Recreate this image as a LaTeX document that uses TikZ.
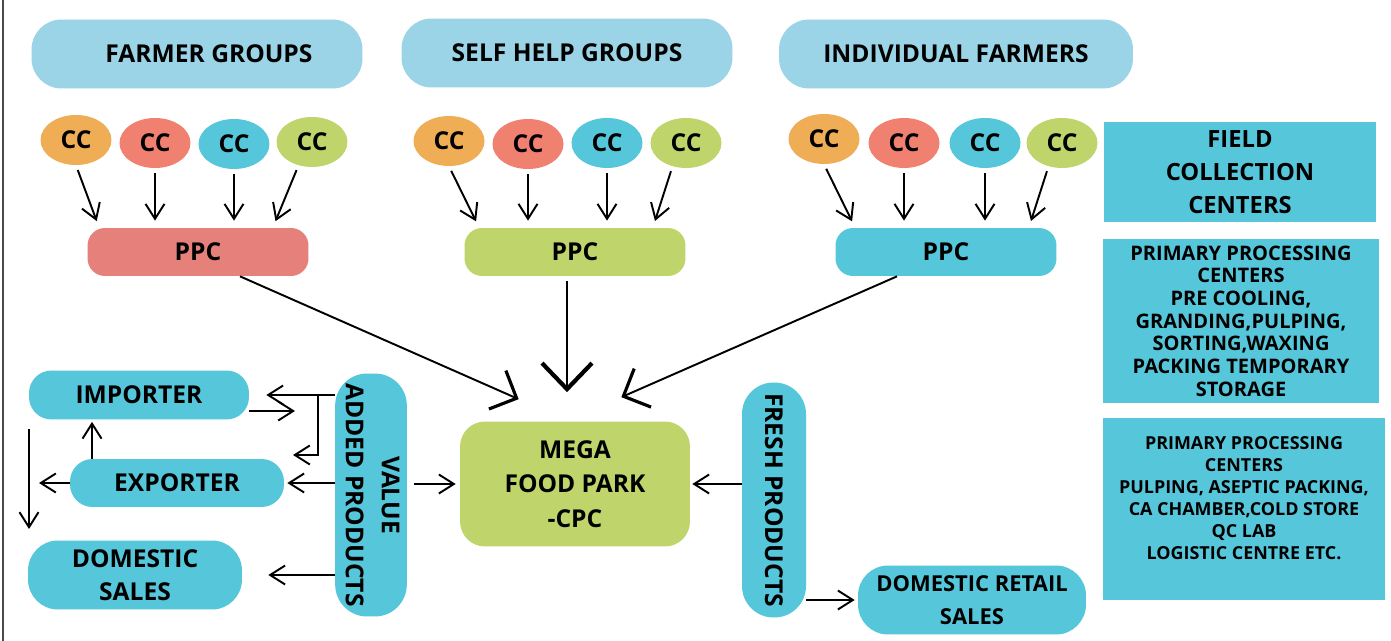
\documentclass[tikz,border=0pt]{standalone}
\usepackage{fontspec}
\setmainfont{Open Sans}
\usepackage{graphicx}
\usepackage{xcolor}
\usetikzlibrary{positioning,arrows.meta,shapes.geometric}
\definecolor{skyTop}{HTML}{9BD4E7}
\definecolor{cyanBox}{HTML}{56C6DA}
\definecolor{ccOrange}{HTML}{EFAD55}
\definecolor{ccRed}{HTML}{F08070}
\definecolor{ppcRed}{HTML}{E5817A}
\definecolor{parkGreen}{HTML}{BFD56C}
\definecolor{edgeGray}{HTML}{4A4A48}

\begin{document}
\begin{tikzpicture}[
    x=0.02cm, y=-0.02cm,
    every node/.style={font=\bfseries\fontsize{14}{19}\selectfont, text=black},
    groupBox/.style={fill=skyTop, rounded corners=0.6cm, minimum width=6.62cm, minimum height=1.38cm},
    ccNode/.style={ellipse, minimum width=1.42cm, minimum height=1.0cm, inner sep=0pt},
    ppcBox/.style={rounded corners=0.35cm, minimum width=4.42cm, minimum height=0.96cm},
    roundBox/.style={fill=cyanBox, rounded corners=0.45cm, align=center},
    infoBox/.style={fill=cyanBox, align=center},
    flowArr/.style={line width=1.1pt, -{Straight Barb[length=0.3cm, width=0.38cm]}},
    ccArr/.style={flowArr, shorten <=0.1cm, shorten >=0.14cm},
    bigArr/.style={line width=1.1pt, -{Straight Barb[length=0.42cm, width=0.84cm, line width=1.8pt]}}
]
    \path[use as bounding box, fill=white] (0,0) rectangle (1391,641);
    \draw[line width=1.6pt, draw=edgeGray] (3,0) -- (3,641);

    % Gruppi di produttori
    \node[groupBox] (fg) at (197,54) {\hspace*{0.48cm}FARMER GROUPS};
    \node[groupBox] (shg) at (567,53) {SELF HELP GROUPS};
    \node[groupBox, minimum width=7.08cm] (inf) at (956,54) {INDIVIDUAL FARMERS};

    % Centri di raccolta
    \node[ccNode, fill=ccOrange] (c11) at (76,140) {CC};
    \node[ccNode, fill=ccRed] (c12) at (155,143) {CC};
    \node[ccNode, fill=cyanBox] (c13) at (234,144) {CC};
    \node[ccNode, fill=parkGreen] (c14) at (312,142) {CC};
    \node[ccNode, fill=ccOrange] (c21) at (449,141) {CC};
    \node[ccNode, fill=ccRed] (c22) at (528,144) {CC};
    \node[ccNode, fill=cyanBox] (c23) at (607,143) {CC};
    \node[ccNode, fill=parkGreen] (c24) at (686,143) {CC};
    \node[ccNode, fill=ccOrange] (c31) at (824,139) {CC};
    \node[ccNode, fill=ccRed] (c32) at (904,143) {CC};
    \node[ccNode, fill=cyanBox] (c33) at (985,143) {CC};
    \node[ccNode, fill=parkGreen] (c34) at (1062,143) {CC};

    % PPC
    \node[ppcBox, fill=ppcRed] (p1) at (198,252) {PPC};
    \node[ppcBox, fill=parkGreen] (p2) at (575,252) {PPC};
    \node[ppcBox, fill=cyanBox] (p3) at (946,252) {PPC};

    % Frecce CC -> PPC
    \draw[ccArr] (c11.south) -- ([xshift=0.24cm]p1.north west);
    \draw[ccArr] (c12.south) -- (c12.south |- p1.north);
    \draw[ccArr] (c13.south) -- (c13.south |- p1.north);
    \draw[ccArr] (c14.240) -- ([xshift=-0.72cm]p1.north east);
    \draw[ccArr] (c21.south) -- ([xshift=0.3cm]p2.north west);
    \draw[ccArr] (c22.south) -- (c22.south |- p2.north);
    \draw[ccArr] (c23.south) -- (c23.south |- p2.north);
    \draw[ccArr] (c24.240) -- ([xshift=-0.66cm]p2.north east);
    \draw[ccArr] (c31.south) -- ([xshift=0.4cm]p3.north west);
    \draw[ccArr] (c32.south) -- (c32.south |- p3.north);
    \draw[ccArr] (c33.south) -- (c33.south |- p3.north);
    \draw[ccArr] (c34.240) -- ([xshift=-0.56cm]p3.north east);

    % Mega Food Park
    \node[fill=parkGreen, rounded corners=0.5cm, minimum width=4.6cm, minimum height=2.5cm,
          align=center, font=\bfseries\fontsize{14}{19.6}\selectfont] (mega) at (575,484) {MEGA\\FOOD PARK\\-CPC};
    \draw[bigArr] ([xshift=0.84cm]p1.south) -- ([xshift=1.18cm, yshift=0.44cm]mega.north west);
    \draw[line width=1.1pt, -{Straight Barb[length=0.52cm, width=1.0cm, line width=2.4pt]}, shorten <=0.1cm]
        ([xshift=-0.16cm]p2.south) -- ([xshift=-0.16cm, yshift=0.58cm]mega.north);
    \draw[bigArr] ([xshift=-0.98cm]p3.south) -- ([xshift=-1.38cm, yshift=0.48cm]mega.north east);

    % Canali di vendita
    \node[roundBox, minimum width=4.4cm, minimum height=0.98cm] (imp) at (139,395) {IMPORTER};
    \node[roundBox, minimum width=4.28cm, minimum height=0.96cm] (exp) at (177,483) {EXPORTER};
    \node[roundBox, rounded corners=0.6cm, minimum width=4.28cm, minimum height=1.38cm,
          font=\bfseries\fontsize{14}{18.7}\selectfont] (dom) at (135,575) {DOMESTIC\\SALES};
    \node[roundBox, rounded corners=0.6cm, minimum width=4.56cm, minimum height=1.38cm,
          font=\bfseries\fontsize{12.5}{18.7}\selectfont] (drs) at (972,600) {DOMESTIC RETAIL\\SALES};

    % Prodotti (verticali)
    \node[roundBox, rounded corners=0.64cm, minimum width=1.3cm, minimum height=4.86cm, inner sep=0pt,
          font=\bfseries\fontsize{14}{20.4}\selectfont] (vap) at (371,495)
          {\rotatebox{-90}{\begin{tabular}{@{}c@{}}VALUE\\ADDED PRODUCTS\end{tabular}}};
    \node[roundBox, rounded corners=0.63cm, minimum width=1.28cm, minimum height=4.7cm, inner sep=0pt] (fresh)
          at (774,500) {\rotatebox{-90}{FRESH PRODUCTS}};

    % Frecce valore aggiunto
    \coordinate (jn) at (318,395);
    \coordinate (sideTip) at (293,455);
    \coordinate (impOut) at (295,411);
    \coordinate (expOut) at (39,483);
    \coordinate (dnTop) at (29,429);
    \coordinate (dnBot) at (29,529);
    \draw[flowArr, shorten >=0.34cm] (vap.west |- imp.east) -- (imp.east);
    \draw[flowArr] (jn) |- (sideTip);
    \draw[flowArr] (imp.east |- impOut) -- (impOut);
    \draw[flowArr, shorten >=0.04cm] ([xshift=-1.7cm]exp.north) -- ([xshift=-1.7cm]exp.north |- imp.south);
    \draw[flowArr] (exp.west) -- (expOut);
    \draw[flowArr] (dnTop) -- (dnBot);
    \draw[flowArr, shorten >=0.06cm] (vap.west |- exp.east) -- (exp.east);
    \draw[flowArr, shorten >=0.52cm] (vap.west |- dom.east) -- (dom.east);
    \draw[flowArr, shorten <=0.14cm, shorten >=0.08cm] (vap.east |- mega.west) -- (mega.west);

    % Frecce prodotti freschi
    \draw[flowArr, shorten >=0.04cm] (fresh.west |- mega.east) -- (mega.east);
    \draw[flowArr, shorten >=0.06cm] (fresh.east |- drs.west) -- (drs.west);

    % Legenda a destra
    \node[infoBox, minimum width=5.44cm, minimum height=2cm, font=\bfseries\fontsize{13.5}{18.8}\selectfont] (fcc)
          at (1240,172) {FIELD\\COLLECTION\\CENTERS};
    \node[infoBox, minimum width=5.52cm, minimum height=3.3cm, font=\bfseries\fontsize{11.4}{12.9}\selectfont] (pcA)
          at (1241,321) {PRIMARY PROCESSING\\CENTERS\\PRE COOLING,\\GRANDING,PULPING,\\SORTING,WAXING\\PACKING TEMPORARY\\STORAGE};
    \node[infoBox, minimum width=5.66cm, minimum height=3.64cm, font=\bfseries\fontsize{10.2}{12.5}\selectfont] (pcB)
          at (1244,509) {PRIMARY PROCESSING\\CENTERS\\PULPING, ASEPTIC PACKING,\\CA CHAMBER,COLD STORE\\QC LAB\\LOGISTIC CENTRE ETC.\\ \mbox{}};
\end{tikzpicture}
\end{document}
